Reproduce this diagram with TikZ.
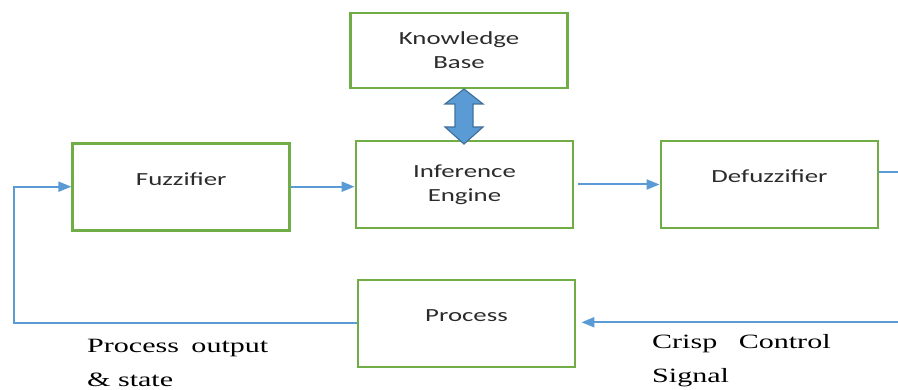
\documentclass[tikz,border=0pt]{standalone}
\usepackage{fontspec}
\setmainfont{Liberation Serif}
\newfontfamily\boxfont[FakeStretch=1.45]{Carlito}
\newfontfamily\labelfont[FakeStretch=1.48]{Liberation Serif}
\usetikzlibrary{arrows.meta,calc}
\definecolor{boxgreen}{HTML}{70AD47}
\definecolor{flowblue}{HTML}{5B9BD5}
\definecolor{edgeblue}{HTML}{41719C}
\definecolor{boxink}{HTML}{2B2B2B}

\begin{document}
\begin{tikzpicture}[x=1pt,y=-1pt,
  boxtext/.style={font=\boxfont\fontsize{18.5}{24}\selectfont, text=boxink, align=center},
  block/.style={draw=boxgreen, line width=2.8pt, minimum width=217pt,
    minimum height=87pt, inner sep=0pt, boxtext},
  caption/.style={label={[boxtext,yshift=8pt]center:#1}},
  wire/.style={draw=flowblue, line width=2pt},
  flow/.style={wire, -{Triangle[length=13pt,width=10pt]}},
  note/.style={font=\labelfont\fontsize{20.3}{34}\selectfont, align=left,
    anchor=north west, inner sep=0pt}]
  \useasboundingbox (0,0) rectangle (898,390);

  % blocks of the fuzzy controller
  \node[block, minimum height=75pt] (kb) at (459,50.5) {Knowledge\\Base};
  \node[block] (ie) at (464.5,184.5) {Inference\\Engine};
  \node[block, caption=Fuzzifier] (fz) at (181.3,186.7) {};
  \node[block, caption=Defuzzifier] (df) at (769.5,184.5) {};
  \node[block, caption=Process] (pr) at (466.5,323.5) {};

  % two-way link between knowledge base and inference engine
  \coordinate (kbtip) at (464,89);
  \coordinate (ietip) at (464,144);
  \filldraw[fill=flowblue, draw=edgeblue, line width=1.2pt, line join=miter]
    (kbtip) -- ($(kbtip)+(19,15)$) -- ($(kbtip)+(9,15)$)
    -- ($(ietip)+(9,-17)$) -- ($(ietip)+(19,-17)$) -- (ietip)
    -- ($(ietip)+(-19,-17)$) -- ($(ietip)+(-9,-17)$)
    -- ($(kbtip)+(-9,15)$) -- ($(kbtip)+(-19,15)$) -- cycle;

  % signal flow
  \draw[flow] (fz.east) -- (fz.east -| ie.west);
  \draw[flow] ([xshift=4pt]ie.east) -- (df.west);
  \coordinate (dfout) at (910,172);
  \draw[wire] ([yshift=12.5pt]df.east) -- (dfout);
  \coordinate (crispin) at (910,322.3);
  \draw[flow] (crispin) -- ([xshift=5pt]crispin -| pr.east);
  \coordinate (fbcorner) at (14,323.5);
  \draw[flow] (pr.west) -- (fbcorner) |- (fz.west);

  % signal names
  \node[note] (pout) at (87,339.5) {Process\hspace{5pt} output\\\& state};
  \node[note] (crisp) at (652,334.5) {Crisp\hspace{14pt} Control\\Signal};
\end{tikzpicture}
\end{document}
